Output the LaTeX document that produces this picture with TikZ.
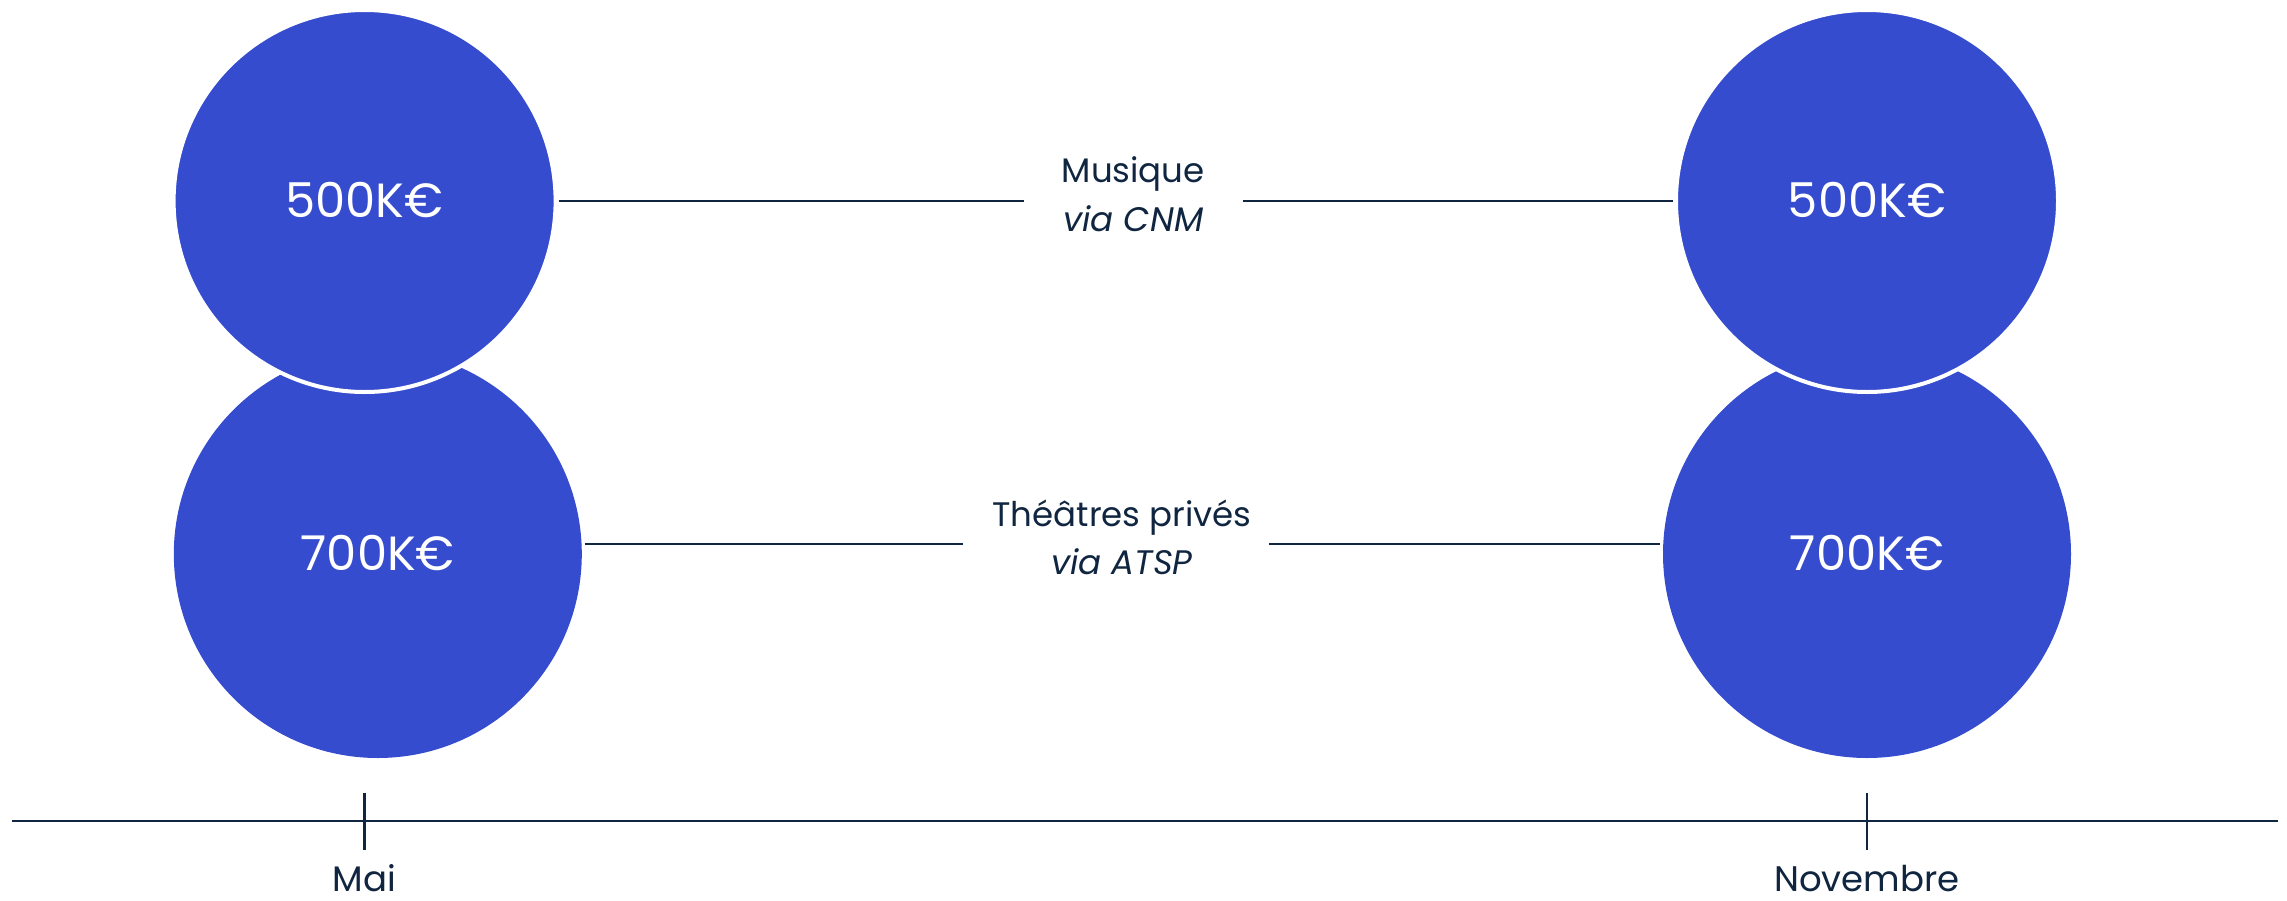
\documentclass[tikz,border=0pt]{standalone}
\usepackage{fontspec}
\setmainfont{Poppins}
\definecolor{cblue}{HTML}{354CCF}
\definecolor{navy}{HTML}{10253F}
\begin{document}
\begin{tikzpicture}[x=1pt,y=-1pt,
  bigdot/.style={circle,fill=cblue,inner sep=0pt,minimum size=408pt,outer sep=0pt},
  topdot/.style={circle,fill=cblue,draw=white,line width=4pt,inner sep=0pt,minimum size=382pt},
  amount/.style={text=white,font=\fontsize{48}{56}\selectfont,anchor=base},
  label/.style={text=navy,font=\fontsize{34}{40}\selectfont,anchor=base},
  datelabel/.style={text=navy,font=\fontsize{35.5}{40}\selectfont,anchor=base},
  link/.style={draw=navy,line width=2pt},
  axis/.style={draw=navy,line width=2.6pt}]
\useasboundingbox (0,0) rectangle (2287,900);
% bottom circles
\node[bigdot] (bl) at (377.8,554) {};
\node[bigdot] (br) at (1867,554) {};
% top circles
\node[topdot] (tl) at (364.6,201) {};
\node[topdot] (tr) at (1867,201) {};
% amounts
\node[amount] (tla) at (364.6,217) {500K€};
\node[amount] (tra) at (1867,217) {500K€};
\node[amount] (bla) at (377.8,570.5) {700K€};
\node[amount] (bra) at (1867,570.5) {700K€};
% labels
\node[label] (mus) at (1133.3,182.7) {Musique};
\node[label] (musvia) at (1133.3,231) {\itshape via CNM};
\node[label] (the) at (1122,526) {Théâtres privés};
\node[label] (thevia) at (1122,574.3) {\itshape via ATSP};
% connector gap ends
\coordinate (m1) at (1024,201.3);
\coordinate (m2) at (1242.6,201.3);
\coordinate (t1) at (962.6,544);
\coordinate (t2) at (1268.9,544);
\draw[link] (tl.east |- m1) ++(1,0) -- (m1);
\draw[link] (m2) -- ([xshift=-1pt]tr.west |- m2);
\draw[link] ([xshift=3pt]bl.east |- t1) -- (t1);
\draw[link] (t2) -- ([xshift=-3pt]br.west |- t2);
% timeline
\coordinate (a0) at (11.7,821);
\coordinate (a1) at (2278,821);
\draw[axis] (a0) -- (a1);
\coordinate (k1t) at (364.6,793.4);
\coordinate (k1b) at (364.6,850.3);
\coordinate (k2t) at (1867,793.4);
\coordinate (k2b) at (1867,850.3);
\draw[axis] (k1t) -- (k1b);
\draw[axis] (k2t) -- (k2b);
\node[datelabel] (mai) at (364.6,891) {Mai};
\node[datelabel] (nov) at (1867,891) {Novembre};
\end{tikzpicture}
\end{document}
